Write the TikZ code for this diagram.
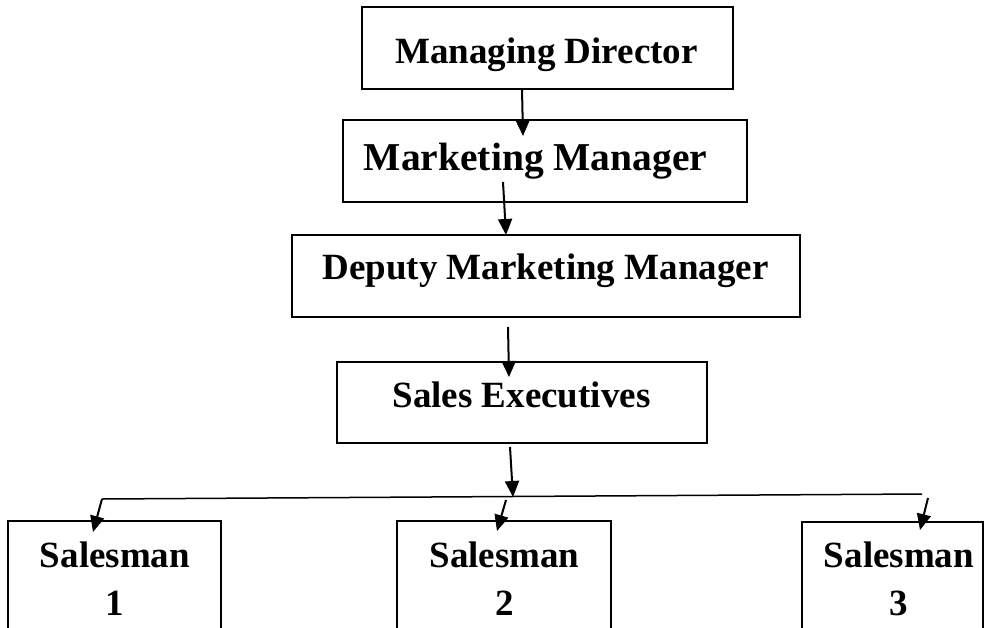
\documentclass[tikz,border=0pt]{standalone}
\usepackage{fontspec}
\setmainfont{Liberation Serif}
\usetikzlibrary{arrows.meta}
\begin{document}
\begin{tikzpicture}[x=1pt,y=-1pt,
  box/.style={draw=black,line width=2pt,rectangle,inner sep=0pt},
  lbl/.style={anchor=base,inner sep=0pt,font=\fontsize{37}{48}\selectfont\bfseries,align=center},
  arr/.style={line width=2pt,-{Triangle[length=16pt,width=14pt]}},
  thin/.style={line width=1.5pt}]
\clip (0,0) rectangle (985,627);
\fill[white] (0,0) rectangle (985,627);
% boxes
\node[box,minimum width=371pt,minimum height=82pt] (md) at (547.5,48) {};
\node[box,minimum width=404pt,minimum height=82pt] (mm) at (545,161) {};
\node[box,minimum width=508pt,minimum height=82pt] (dmm) at (546,276) {};
\node[box,minimum width=370pt,minimum height=81pt] (se) at (522,402.5) {};
\node[box,minimum width=213pt,minimum height=200pt] (s1) at (114.5,621) {};
\node[box,minimum width=214pt,minimum height=200pt] (s2) at (504,621) {};
\node[box,minimum width=181pt,minimum height=200pt] (s3) at (892.5,622) {};
% texts
\node[lbl] (mdt) at (546.5,63) {Managing Director};
\node[lbl,font=\fontsize{39.5}{48}\selectfont\bfseries] (mmt) at (535.5,170) {Marketing Manager};
\node[lbl] (dmmt) at (545.5,279) {Deputy Marketing Manager};
\node[lbl] (set) at (521.5,407) {Sales Executives};
\node[lbl] (s1t) at (115,615) {Salesman\\1};
\node[lbl] (s2t) at (504.5,615) {Salesman\\2};
\node[lbl] (s3t) at (899,615) {Salesman\\3};
% connector points
\coordinate (a1s) at (522,89);   \coordinate (a1e) at (523,136);
\coordinate (a2s) at (503,182);  \coordinate (a2e) at (506,235);
\coordinate (a3s) at (508,327);  \coordinate (a3e) at (509,377);
\coordinate (a4s) at (510,447);  \coordinate (a4e) at (513,497);
\coordinate (hl) at (102,499);   \coordinate (hr) at (922,494);
\coordinate (b1e) at (93,532);
\coordinate (b2s) at (506,500);  \coordinate (b2e) at (497,531);
\coordinate (b3s) at (928,498);  \coordinate (b3e) at (920,530);
% connectors
\draw[arr] (a1s) -- (a1e);
\draw[arr] (a2s) -- (a2e);
\draw[arr] (a3s) -- (a3e);
\draw[arr] (a4s) -- (a4e);
\draw[thin] (hl) -- (hr);
\draw[arr] (hl) -- (b1e);
\draw[arr] (b2s) -- (b2e);
\draw[arr] (b3s) -- (b3e);
\end{tikzpicture}
\end{document}
